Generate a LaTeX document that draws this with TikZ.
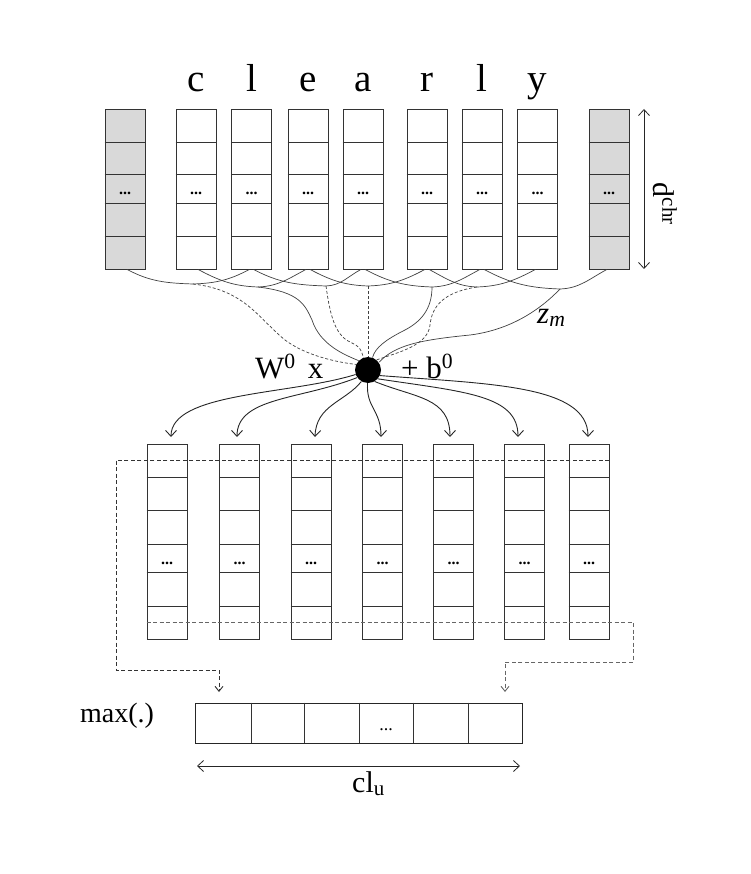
\documentclass[tikz,border=0pt]{standalone}
\usepackage{fontspec}
\setmainfont{Liberation Serif}
\usetikzlibrary{arrows.meta}
\begin{document}
\begin{tikzpicture}[x=1pt,y=-1pt,
  col/.style={draw=black!80, line width=0.8pt, minimum width=40pt, inner sep=0pt, fill=white},
  gcol/.style={col, fill=black!15},
  rowline/.style={draw=black!80, line width=0.8pt},
  dotsty/.style={inner sep=0pt, font=\fontsize{16}{16}\selectfont\bfseries},
  letter/.style={inner sep=0pt, anchor=base, font=\fontsize{39}{39}\selectfont},
  lab/.style={inner sep=0pt, font=\fontsize{31}{31}\selectfont},
  conn/.style={draw=black!75, line width=0.7pt},
  dconn/.style={conn, dash pattern=on 3pt off 2pt},
  arr/.style={draw=black!85, line width=0.9pt, -{Straight Barb[length=6pt,width=11pt]}},
  darr/.style={draw=black!80, line width=0.9pt, dash pattern=on 4pt off 2.5pt, -{Straight Barb[length=5pt,width=8pt]}},
  dim/.style={draw=black!85, line width=0.8pt, {Straight Barb[length=6pt,width=11pt]}-{Straight Barb[length=6pt,width=11pt]}}
]
\useasboundingbox (0,0) rectangle (750,874);

% ---------- top character columns ----------
\foreach \x [count=\i from 0] in {125,196,251.5,308,363,427,482,537.5,609}{
  \ifnum\i=0 \node[gcol, minimum height=160pt] (t\i) at (\x,189) {};
  \else\ifnum\i=8 \node[gcol, minimum height=160pt] (t\i) at (\x,189) {};
  \else \node[col, minimum height=160pt] (t\i) at (\x,189) {};
  \fi\fi
  \foreach \y in {142,174,203,236}{
    \draw[rowline] (t\i.west |- 0,\y) -- (t\i.east |- 0,\y);
  }
  \node[dotsty] (td\i) at (\x,193) {...};
}

% letters
\node[letter] (lc) at (196,92) {c};
\node[letter] (ll) at (251.5,92) {l};
\node[letter] (le) at (308,92) {e};
\node[letter] (la) at (363,92) {a};
\node[letter] (lr) at (427,92) {r};
\node[letter] (ll2) at (482,92) {l};
\node[letter] (ly) at (537.5,92) {y};

% d^chr dimension
\coordinate (dT) at (644,109);
\coordinate (dB) at (644,269);
\draw[dim] (dT) -- (dB);
\node[lab, rotate=-90, font=\fontsize{30}{30}\selectfont] (dchr) at (665,204) {d\textsuperscript{chr}};

% ---------- merge points and arcs ----------
\coordinate (M1) at (193,284);
\coordinate (M2) at (258,287);
\coordinate (M3) at (326,286);
\coordinate (M4) at (368,286);
\coordinate (M5) at (432,287);
\coordinate (M6) at (477,287);
\coordinate (M7) at (560,289);

% right-going arcs: box j -> M(j+1)
\foreach \j/\m in {0/1,1/2,2/3,3/4,4/5,5/6,6/7}{
  \draw[conn] ([xshift=2pt]t\j.south) to[out=-28,in=178] (M\m);
}
% left-going arcs: box j -> M(j-1)
\foreach \j/\m in {2/1,3/2,4/3,5/4,6/5,7/6,8/7}{
  \draw[conn] ([xshift=-2pt]t\j.south) to[out=-152,in=2] (M\m);
}

% ---------- central node ----------
\node[circle, fill=black, minimum size=26pt, inner sep=0pt] (W) at (368,370) {};
\node[lab, anchor=base west] (wx) at (255,378) {W\textsuperscript{0}\hspace{12pt}x};
\node[lab, anchor=base west] (bb) at (401,378) {+ b\textsuperscript{0}};
\node[lab, anchor=base west] (zm) at (537,323) {\textit{z\textsubscript{m}}};

% lines from merge points to the node
\draw[dconn] (M1) .. controls (245,290) and (258,318) .. (285,340) .. controls (305,355) and (335,362) .. (W.155);
\draw[conn]  (M2) .. controls (300,292) and (305,305) .. (312,320) .. controls (320,345) and (345,355) .. (W.135);
\draw[dconn] (M3) .. controls (330,315) and (335,335) .. (350,342) .. controls (360,347) .. (W.110);
\draw[dconn] (M4) -- (W.90);
\draw[conn]  (M5) .. controls (432,310) and (420,322) .. (405,330) .. controls (385,340) and (375,348) .. (W.70);
\draw[dconn] (M6) .. controls (445,292) and (432,305) .. (430,325) .. controls (428,345) and (400,352) .. (W.50);
\draw[conn]  (M7) .. controls (540,310) and (510,330) .. (470,335) .. controls (420,340) and (395,345) .. (W.35);

% ---------- lower columns ----------
\foreach \x [count=\i from 1] in {167,239.5,311,382.5,453.5,524.5,589}{
  \node[col, line width=0.9pt, minimum height=195.5pt] (b\i) at (\x,541.75) {};
  \foreach \y in {477.7,510,544,572.5,606}{
    \draw[rowline, line width=0.9pt] (b\i.west |- 0,\y) -- (b\i.east |- 0,\y);
  }
  \node[dotsty] (bd\i) at (\x,563) {...};
}

% arrows from node to lower columns
\coordinate (a1) at (171,437);
\coordinate (a2) at (237,437);
\coordinate (a3) at (315,437);
\coordinate (a4) at (381,437);
\coordinate (a5) at (450,437);
\coordinate (a6) at (518,437);
\coordinate (a7) at (588,437);
\draw[arr] (W.200) .. controls (290,395) and (171,392) .. (a1);
\draw[arr] (W.215) .. controls (300,400) and (237,397) .. (a2);
\draw[arr] (W.240) .. controls (345,402) and (316,405) .. (a3);
\draw[arr] (W.268) .. controls (366,408) and (381,410) .. (a4);
\draw[arr] (W.300) .. controls (415,398) and (450,397) .. (a5);
\draw[arr] (W.318) .. controls (465,392) and (518,395) .. (a6);
\draw[arr] (W.335) .. controls (490,384) and (588,385) .. (a7);

% ---------- max pooling box ----------
\node[draw=black!85, line width=0.8pt, minimum width=327pt, minimum height=40pt, inner sep=0pt] (mb) at (358.5,723) {};
\foreach \x in {251,304,359,413,468}{
  \draw[rowline] (mb.north -| \x,0) -- (mb.south -| \x,0);
}
\node[inner sep=0pt, font=\fontsize{18}{18}\selectfont] (md) at (386,730) {...};
\node[lab, anchor=base west, font=\fontsize{28}{28}\selectfont] (mx) at (80,722) {max(.)};

% dashed routes into the max box
\coordinate (pL) at (219,692);
\coordinate (pR) at (505,692);
\draw[darr] (b7.east |- 0,460) -- (116,460) -- (116,670) -- (219,670) -- (pL);
\draw[darr, draw=black!60] (b1.west |- 0,622) -- (633,622) -- (633,662) -- (505,662) -- (pR);

% cl_u dimension
\coordinate (cL) at (197,766);
\coordinate (cR) at (520,766);
\draw[dim] (cL) -- (cR);
\node[lab, anchor=base west, font=\fontsize{30}{30}\selectfont] (clu) at (352,792) {cl\textsubscript{u}};
\end{tikzpicture}
\end{document}
